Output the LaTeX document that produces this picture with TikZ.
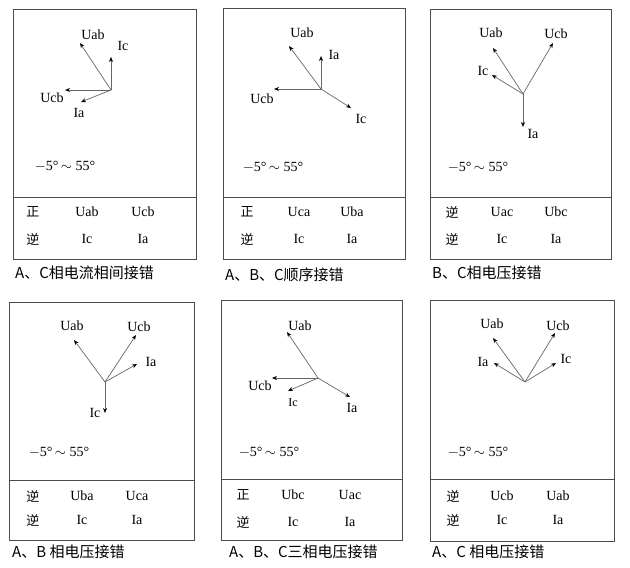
\documentclass[tikz,border=0pt]{standalone}
\usepackage{fontspec}
\setmainfont{Liberation Serif}
\newfontfamily\cjk{Noto Sans CJK SC}
\usetikzlibrary{arrows.meta}

\begin{document}
\begin{tikzpicture}[x=1pt, y=-1pt,
  box/.style={draw=black!70, line width=0.9pt},
  vec/.style={draw=black!60, line width=0.7pt, -{Stealth[length=5pt,width=4pt,color=black]}},
  lbl/.style={font=\fontsize{14}{16}\selectfont, inner sep=0pt},
  zh/.style={font=\cjk\fontsize{13}{15}\selectfont, inner sep=0pt},
  captext/.style={font=\cjk\fontsize{15}{17}\selectfont, inner sep=0pt, anchor=west}]
  \useasboundingbox (0,0) rectangle (630,568);

  % ---- Panel 1: A, C current swapped ----
  \draw[box] (13,9) rectangle (196,259);
  \draw[box] (13,197) -- (196,197);
  \coordinate (o1) at (111,90);
  \coordinate (uab1) at (80,43);
  \coordinate (ic1) at (111,57);
  \coordinate (ucb1) at (65,90);
  \coordinate (ia1) at (81,102);
  \draw[vec] (o1) -- (uab1);
  \draw[vec] (o1) -- (ic1);
  \draw[vec] (o1) -- (ucb1);
  \draw[vec] (o1) -- (ia1);
  \node[lbl] (luab1) at (93,35) {Uab};
  \node[lbl] (lic1) at (123,46) {Ic};
  \node[lbl] (lucb1) at (52,98) {Ucb};
  \node[lbl] (lia1) at (79,113) {Ia};
  \node[lbl] (rng1) at (65,166) {$-$5°\,$\sim$ 55°};
  \node[zh] (s11) at (33,212) {正};
  \node[lbl] (t11) at (87,212) {Uab};
  \node[lbl] (t12) at (143,212) {Ucb};
  \node[zh] (s12) at (33,239) {逆};
  \node[lbl] (t13) at (87,239) {Ic};
  \node[lbl] (t14) at (143,239) {Ia};
  \node[captext] (cap1) at (15,273) {A、C相电流相间接错};

  % ---- Panel 2: A, B, C sequence ----
  \draw[box] (223,8) rectangle (405,259);
  \draw[box] (223,197) -- (405,197);
  \coordinate (o2) at (321,89);
  \coordinate (uab2) at (289,46);
  \coordinate (ia2) at (321,56);
  \coordinate (ucb2) at (274,89);
  \coordinate (ic2) at (351,108);
  \draw[vec] (o2) -- (uab2);
  \draw[vec] (o2) -- (ia2);
  \draw[vec] (o2) -- (ucb2);
  \draw[vec] (o2) -- (ic2);
  \node[lbl] (luab2) at (302,33) {Uab};
  \node[lbl] (lia2) at (334,55) {Ia};
  \node[lbl] (lucb2) at (262,99) {Ucb};
  \node[lbl] (lic2) at (361,119) {Ic};
  \node[lbl] (rng2) at (273,167) {$-$5°\,$\sim$ 55°};
  \node[zh] (s21) at (247,212) {正};
  \node[lbl] (t21) at (299,212) {Uca};
  \node[lbl] (t22) at (352,212) {Uba};
  \node[zh] (s22) at (247,239) {逆};
  \node[lbl] (t23) at (299,239) {Ic};
  \node[lbl] (t24) at (352,239) {Ia};
  \node[captext] (cap2) at (225,275) {A、B、C顺序接错};

  % ---- Panel 3: B, C voltage swapped ----
  \draw[box] (430,9) rectangle (611,259);
  \draw[box] (430,197) -- (611,197);
  \coordinate (o3) at (523,94);
  \coordinate (uab3) at (493,48);
  \coordinate (ucb3) at (553,43);
  \coordinate (ic3) at (492,75);
  \coordinate (ia3) at (523,127);
  \draw[vec] (o3) -- (uab3);
  \draw[vec] (o3) -- (ucb3);
  \draw[vec] (o3) -- (ic3);
  \draw[vec] (o3) -- (ia3);
  \node[lbl] (luab3) at (491,33) {Uab};
  \node[lbl] (lucb3) at (556,34) {Ucb};
  \node[lbl] (lic3) at (483,71) {Ic};
  \node[lbl] (lia3) at (533,134) {Ia};
  \node[lbl] (rng3) at (478,167) {$-$5°\,$\sim$ 55°};
  \node[zh] (s31) at (452,212) {逆};
  \node[lbl] (t31) at (502,212) {Uac};
  \node[lbl] (t32) at (556,212) {Ubc};
  \node[zh] (s32) at (452,239) {逆};
  \node[lbl] (t33) at (502,239) {Ic};
  \node[lbl] (t34) at (556,239) {Ia};
  \node[captext] (cap3) at (432,273) {B、C相电压接错};

  % ---- Panel 4: A, B voltage swapped ----
  \draw[box] (9,302) rectangle (194,540);
  \draw[box] (9,480) -- (194,480);
  \coordinate (o4) at (105,382);
  \coordinate (uab4) at (74,340);
  \coordinate (ucb4) at (136,335);
  \coordinate (ia4) at (137,364);
  \coordinate (ic4) at (105,413);
  \draw[vec] (o4) -- (uab4);
  \draw[vec] (o4) -- (ucb4);
  \draw[vec] (o4) -- (ia4);
  \draw[vec] (o4) -- (ic4);
  \node[lbl] (luab4) at (72,326) {Uab};
  \node[lbl] (lucb4) at (139,327) {Ucb};
  \node[lbl] (lia4) at (151,362) {Ia};
  \node[lbl] (lic4) at (95,413) {Ic};
  \node[lbl] (rng4) at (59,452) {$-$5°\,$\sim$ 55°};
  \node[zh] (s41) at (33,496) {逆};
  \node[lbl] (t41) at (82,496) {Uba};
  \node[lbl] (t42) at (137,496) {Uca};
  \node[zh] (s42) at (33,520) {逆};
  \node[lbl] (t43) at (82,520) {Ic};
  \node[lbl] (t44) at (137,520) {Ia};
  \node[captext] (cap4) at (12,552) {A、B 相电压接错};

  % ---- Panel 5: A, B, C three-phase voltage ----
  \draw[box] (221,300) rectangle (402,540);
  \draw[box] (221,479) -- (402,479);
  \coordinate (o5) at (318,378);
  \coordinate (uab5) at (287,332);
  \coordinate (ucb5) at (272,378);
  \coordinate (ic5) at (288,391);
  \coordinate (ia5) at (350,397);
  \draw[vec] (o5) -- (uab5);
  \draw[vec] (o5) -- (ucb5);
  \draw[vec] (o5) -- (ic5);
  \draw[vec] (o5) -- (ia5);
  \node[lbl] (luab5) at (300,326) {Uab};
  \node[lbl] (lucb5) at (260,386) {Ucb};
  \node[lbl, font=\fontsize{12}{14}\selectfont] (lic5) at (293,403) {Ic};
  \node[lbl] (lia5) at (352,408) {Ia};
  \node[lbl] (rng5) at (269,452) {$-$5°\,$\sim$ 55°};
  \node[zh] (s51) at (243,495) {正};
  \node[lbl] (t51) at (293,495) {Ubc};
  \node[lbl] (t52) at (350,495) {Uac};
  \node[zh] (s52) at (243,522) {逆};
  \node[lbl] (t53) at (293,522) {Ic};
  \node[lbl] (t54) at (350,522) {Ia};
  \node[captext] (cap5) at (229,552) {A、B、C三相电压接错};

  % ---- Panel 6: A, C voltage swapped ----
  \draw[box] (430,300) rectangle (614,541);
  \draw[box] (430,479) -- (614,479);
  \coordinate (o6) at (525,382);
  \coordinate (uab6) at (493,338);
  \coordinate (ucb6) at (555,333);
  \coordinate (ia6) at (494,363);
  \coordinate (ic6) at (556,363);
  \draw[vec] (o6) -- (uab6);
  \draw[vec] (o6) -- (ucb6);
  \draw[vec] (o6) -- (ia6);
  \draw[vec] (o6) -- (ic6);
  \node[lbl] (luab6) at (492,324) {Uab};
  \node[lbl] (lucb6) at (558,326) {Ucb};
  \node[lbl] (lia6) at (483,362) {Ia};
  \node[lbl] (lic6) at (566,359) {Ic};
  \node[lbl] (rng6) at (478,452) {$-$5°\,$\sim$ 55°};
  \node[zh] (s61) at (453,496) {逆};
  \node[lbl] (t61) at (502,496) {Ucb};
  \node[lbl] (t62) at (558,496) {Uab};
  \node[zh] (s62) at (453,520) {逆};
  \node[lbl] (t63) at (502,520) {Ic};
  \node[lbl] (t64) at (558,520) {Ia};
  \node[captext] (cap6) at (432,552) {A、C 相电压接错};
\end{tikzpicture}
\end{document}
